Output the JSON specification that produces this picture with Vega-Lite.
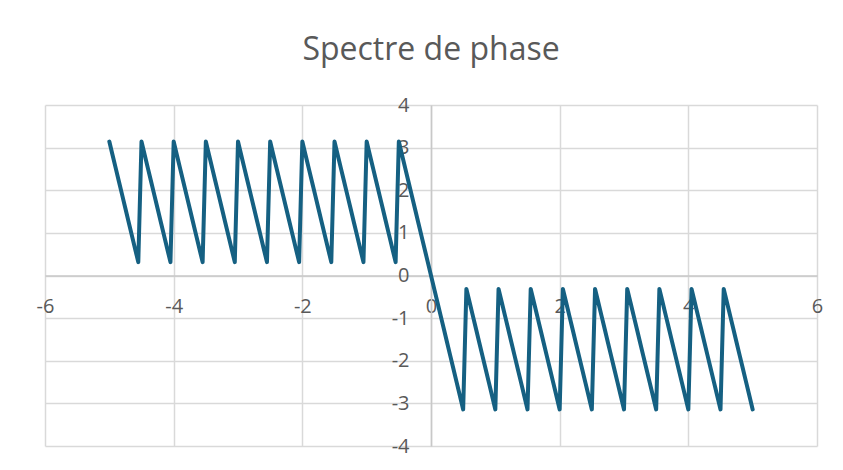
{
"$schema": "https://vega.github.io/schema/vega-lite/v6.json",
"width": 772, "height": 341,
"autosize": {"type": "none"},
"padding": {"left": 45, "top": 105, "right": 26, "bottom": 24},
"background": "white",
"title": {"text": "Spectre de phase", "fontSize": 32, "font": "Open Sans", "fontWeight": "normal", "color": "#595959", "anchor": "middle", "offset": 28},
"config": {
  "view": {"stroke": null},
  "axis": {"labelFont": "Open Sans", "labelFontSize": 20, "labelColor": "#595959", "gridColor": "#d9d9d9", "gridWidth": 1.5, "domainColor": "#c8c8c8", "domainWidth": 1.5, "ticks": false, "title": null, "labelFlush": false, "labelExpr": "'' + datum.value"}
},
"data": {"values": [
{"x":-5,"y":3.142},{"x":-4.95,"y":2.827},{"x":-4.9,"y":2.513},{"x":-4.85,"y":2.199},{"x":-4.8,"y":1.885},{"x":-4.75,"y":1.571},{"x":-4.7,"y":1.257},{"x":-4.65,"y":0.942},{"x":-4.6,"y":0.628},{"x":-4.55,"y":0.314},
{"x":-4.5,"y":3.142},{"x":-4.45,"y":2.827},{"x":-4.4,"y":2.513},{"x":-4.35,"y":2.199},{"x":-4.3,"y":1.885},{"x":-4.25,"y":1.571},{"x":-4.2,"y":1.257},{"x":-4.15,"y":0.942},{"x":-4.1,"y":0.628},{"x":-4.05,"y":0.314},
{"x":-4,"y":3.142},{"x":-3.95,"y":2.827},{"x":-3.9,"y":2.513},{"x":-3.85,"y":2.199},{"x":-3.8,"y":1.885},{"x":-3.75,"y":1.571},{"x":-3.7,"y":1.257},{"x":-3.65,"y":0.942},{"x":-3.6,"y":0.628},{"x":-3.55,"y":0.314},
{"x":-3.5,"y":3.142},{"x":-3.45,"y":2.827},{"x":-3.4,"y":2.513},{"x":-3.35,"y":2.199},{"x":-3.3,"y":1.885},{"x":-3.25,"y":1.571},{"x":-3.2,"y":1.257},{"x":-3.15,"y":0.942},{"x":-3.1,"y":0.628},{"x":-3.05,"y":0.314},
{"x":-3,"y":3.142},{"x":-2.95,"y":2.827},{"x":-2.9,"y":2.513},{"x":-2.85,"y":2.199},{"x":-2.8,"y":1.885},{"x":-2.75,"y":1.571},{"x":-2.7,"y":1.257},{"x":-2.65,"y":0.942},{"x":-2.6,"y":0.628},{"x":-2.55,"y":0.314},
{"x":-2.5,"y":3.142},{"x":-2.45,"y":2.827},{"x":-2.4,"y":2.513},{"x":-2.35,"y":2.199},{"x":-2.3,"y":1.885},{"x":-2.25,"y":1.571},{"x":-2.2,"y":1.257},{"x":-2.15,"y":0.942},{"x":-2.1,"y":0.628},{"x":-2.05,"y":0.314},
{"x":-2,"y":3.142},{"x":-1.95,"y":2.827},{"x":-1.9,"y":2.513},{"x":-1.85,"y":2.199},{"x":-1.8,"y":1.885},{"x":-1.75,"y":1.571},{"x":-1.7,"y":1.257},{"x":-1.65,"y":0.942},{"x":-1.6,"y":0.628},{"x":-1.55,"y":0.314},
{"x":-1.5,"y":3.142},{"x":-1.45,"y":2.827},{"x":-1.4,"y":2.513},{"x":-1.35,"y":2.199},{"x":-1.3,"y":1.885},{"x":-1.25,"y":1.571},{"x":-1.2,"y":1.257},{"x":-1.15,"y":0.942},{"x":-1.1,"y":0.628},{"x":-1.05,"y":0.314},
{"x":-1,"y":3.142},{"x":-0.95,"y":2.827},{"x":-0.9,"y":2.513},{"x":-0.85,"y":2.199},{"x":-0.8,"y":1.885},{"x":-0.75,"y":1.571},{"x":-0.7,"y":1.257},{"x":-0.65,"y":0.942},{"x":-0.6,"y":0.628},{"x":-0.55,"y":0.314},
{"x":-0.5,"y":3.142},{"x":-0.45,"y":2.827},{"x":-0.4,"y":2.513},{"x":-0.35,"y":2.199},{"x":-0.3,"y":1.885},{"x":-0.25,"y":1.571},{"x":-0.2,"y":1.257},{"x":-0.15,"y":0.942},{"x":-0.1,"y":0.628},{"x":-0.05,"y":0.314},
{"x":0,"y":0},
{"x":0.05,"y":-0.314},{"x":0.1,"y":-0.628},{"x":0.15,"y":-0.942},{"x":0.2,"y":-1.257},{"x":0.25,"y":-1.571},{"x":0.3,"y":-1.885},{"x":0.35,"y":-2.199},{"x":0.4,"y":-2.513},{"x":0.45,"y":-2.827},{"x":0.5,"y":-3.142},
{"x":0.55,"y":-0.314},{"x":0.6,"y":-0.628},{"x":0.65,"y":-0.942},{"x":0.7,"y":-1.257},{"x":0.75,"y":-1.571},{"x":0.8,"y":-1.885},{"x":0.85,"y":-2.199},{"x":0.9,"y":-2.513},{"x":0.95,"y":-2.827},{"x":1,"y":-3.142},
{"x":1.05,"y":-0.314},{"x":1.1,"y":-0.628},{"x":1.15,"y":-0.942},{"x":1.2,"y":-1.257},{"x":1.25,"y":-1.571},{"x":1.3,"y":-1.885},{"x":1.35,"y":-2.199},{"x":1.4,"y":-2.513},{"x":1.45,"y":-2.827},{"x":1.5,"y":-3.142},
{"x":1.55,"y":-0.314},{"x":1.6,"y":-0.628},{"x":1.65,"y":-0.942},{"x":1.7,"y":-1.257},{"x":1.75,"y":-1.571},{"x":1.8,"y":-1.885},{"x":1.85,"y":-2.199},{"x":1.9,"y":-2.513},{"x":1.95,"y":-2.827},{"x":2,"y":-3.142},
{"x":2.05,"y":-0.314},{"x":2.1,"y":-0.628},{"x":2.15,"y":-0.942},{"x":2.2,"y":-1.257},{"x":2.25,"y":-1.571},{"x":2.3,"y":-1.885},{"x":2.35,"y":-2.199},{"x":2.4,"y":-2.513},{"x":2.45,"y":-2.827},{"x":2.5,"y":-3.142},
{"x":2.55,"y":-0.314},{"x":2.6,"y":-0.628},{"x":2.65,"y":-0.942},{"x":2.7,"y":-1.257},{"x":2.75,"y":-1.571},{"x":2.8,"y":-1.885},{"x":2.85,"y":-2.199},{"x":2.9,"y":-2.513},{"x":2.95,"y":-2.827},{"x":3,"y":-3.142},
{"x":3.05,"y":-0.314},{"x":3.1,"y":-0.628},{"x":3.15,"y":-0.942},{"x":3.2,"y":-1.257},{"x":3.25,"y":-1.571},{"x":3.3,"y":-1.885},{"x":3.35,"y":-2.199},{"x":3.4,"y":-2.513},{"x":3.45,"y":-2.827},{"x":3.5,"y":-3.142},
{"x":3.55,"y":-0.314},{"x":3.6,"y":-0.628},{"x":3.65,"y":-0.942},{"x":3.7,"y":-1.257},{"x":3.75,"y":-1.571},{"x":3.8,"y":-1.885},{"x":3.85,"y":-2.199},{"x":3.9,"y":-2.513},{"x":3.95,"y":-2.827},{"x":4,"y":-3.142},
{"x":4.05,"y":-0.314},{"x":4.1,"y":-0.628},{"x":4.15,"y":-0.942},{"x":4.2,"y":-1.257},{"x":4.25,"y":-1.571},{"x":4.3,"y":-1.885},{"x":4.35,"y":-2.199},{"x":4.4,"y":-2.513},{"x":4.45,"y":-2.827},{"x":4.5,"y":-3.142},
{"x":4.55,"y":-0.314},{"x":4.6,"y":-0.628},{"x":4.65,"y":-0.942},{"x":4.7,"y":-1.257},{"x":4.75,"y":-1.571},{"x":4.8,"y":-1.885},{"x":4.85,"y":-2.199},{"x":4.9,"y":-2.513},{"x":4.95,"y":-2.827},{"x":5,"y":-3.142}
]},
"mark": {"type": "line", "color": "#156082", "strokeWidth": 4, "strokeCap": "round", "strokeJoin": "round"},
"encoding": {
  "x": {"field": "x", "type": "quantitative", "scale": {"domain": [-6, 6], "nice": false, "zero": false},
        "axis": {"values": [-6, -4, -2, 0, 2, 4, 6], "offset": -170.5, "labelPadding": 21}},
  "y": {"field": "y", "type": "quantitative", "scale": {"domain": [-4, 4], "nice": false, "zero": false},
        "axis": {"values": [-4, -3, -2, -1, 0, 1, 2, 3, 4], "offset": -386, "labelPadding": 22}}
}
}
